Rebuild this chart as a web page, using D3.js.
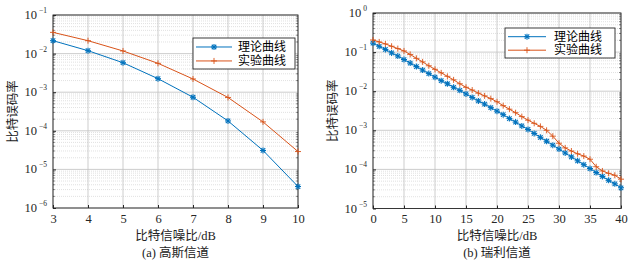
<!DOCTYPE html>
<html><head><meta charset="utf-8">
<script src="https://cdn.jsdelivr.net/npm/d3@7"></script>
<style>body{margin:0;background:#fff}svg{display:block}</style>
</head><body>
<script>
// ---- data ----
const snrA = [3,4,5,6,7,8,9,10];
const theoryA = [0.0216,0.0119,0.0058,0.00224,7.4e-4,1.8e-4,3.1e-5,3.6e-6];
const expA    = [0.0355,0.0216,0.0117,0.0056,0.0022,7.3e-4,1.7e-4,2.9e-5];

const snrB = d3.range(0,41);
const theoryB = [0.170,0.141,0.117,0.0955,0.0794,0.0646,0.0525,0.0427,0.0347,0.0282,
  0.0229,0.0186,0.0155,0.0126,0.0105,0.00851,0.00692,0.00562,0.00468,0.00380,
  0.00309,0.00251,0.00200,0.00162,0.00129,0.00105,8.32e-4,6.61e-4,5.25e-4,4.17e-4,
  3.31e-4,2.63e-4,2.09e-4,1.66e-4,1.32e-4,1.05e-4,8.32e-5,6.61e-5,5.25e-5,4.27e-5,3.39e-5];
const expB = [0.204,0.182,0.162,0.141,0.123,0.107,0.0871,0.0692,0.0562,0.0447,
  0.0363,0.0295,0.0240,0.0195,0.0155,0.0126,0.0107,0.00891,0.00759,0.00646,
  0.00537,0.00427,0.00347,0.00282,0.00224,0.00182,0.00151,0.00126,0.00100,7.08e-4,
  4.68e-4,3.55e-4,2.95e-4,2.51e-4,2.19e-4,1.82e-4,1.17e-4,9.12e-5,7.94e-5,7.08e-5,5.62e-5];

const xTicksA = [3,4,5,6,7,8,9,10];
const xTicksB = [0,5,10,15,20,25,30,35,40];
const yExpA = [-1,-2,-3,-4,-5,-6];
const yExpB = [0,-1,-2,-3,-4,-5];
const legendLabels = ["理论曲线","实验曲线"];
const xTitle = "比特信噪比/dB";
const yTitle = "比特误码率";
const captions = ["(a) 高斯信道","(b) 瑞利信道"];

const BLUE = "#0072BD", RED = "#D95319";
const SERIF = "'Liberation Serif','Times New Roman',serif";
const CJK = "'Liberation Serif','Noto Sans CJK SC',serif";

const svg = d3.select("body").append("svg").attr("width",641).attr("height",264);

function chart(o){
  const g = svg.append("g");
  const x = d3.scaleLinear().domain(o.xdom).range([o.l,o.r]);
  const y = d3.scaleLog().domain(o.ydom).range([o.b,o.t]);
  const lo = Math.log10(o.ydom[0]), hi = Math.log10(o.ydom[1]);
  const minor = [];
  for(let e=lo;e<hi;e++) for(let m=2;m<=9;m++) minor.push(m*Math.pow(10,e));
  g.selectAll(".mg").data(minor).join("line")
    .attr("x1",o.l).attr("x2",o.r).attr("y1",d=>y(d)).attr("y2",d=>y(d))
    .attr("stroke","#cdcdcd").attr("stroke-width",0.6).attr("stroke-dasharray","1,1");
  const majY = d3.range(lo,hi+1).map(e=>Math.pow(10,e));
  g.selectAll(".gy").data(majY).join("line")
    .attr("x1",o.l).attr("x2",o.r).attr("y1",d=>y(d)).attr("y2",d=>y(d))
    .attr("stroke","#c0c0c0").attr("stroke-width",0.8);
  g.selectAll(".gx").data(o.xticks).join("line")
    .attr("x1",d=>x(d)).attr("x2",d=>x(d)).attr("y1",o.t).attr("y2",o.b)
    .attr("stroke","#c0c0c0").attr("stroke-width",0.8);
  const ax = g.append("g").attr("transform",`translate(0,${o.b})`)
    .call(d3.axisBottom(x).tickValues(o.xticks).tickSize(-3).tickPadding(6).tickFormat(d3.format("d")));
  ax.selectAll("text").attr("font-family",SERIF).attr("font-size",12.5).attr("fill","#262626");
  ax.select(".domain").remove();
  ax.selectAll("line").attr("stroke","#262626");
  const ay = g.append("g").attr("transform",`translate(${o.l},0)`)
    .call(d3.axisLeft(y).tickValues(majY).tickSize(-3).tickFormat(""));
  ay.select(".domain").remove();
  ay.selectAll("line").attr("stroke","#262626");
  g.selectAll(".mt").data(minor).join("line")
    .attr("x1",o.l).attr("x2",o.l+1.8).attr("y1",d=>y(d)).attr("y2",d=>y(d))
    .attr("stroke","#262626").attr("stroke-width",0.6);
  g.selectAll(".mt2").data(minor).join("line")
    .attr("x1",o.r).attr("x2",o.r-1.8).attr("y1",d=>y(d)).attr("y2",d=>y(d))
    .attr("stroke","#262626").attr("stroke-width",0.6);
  const lab = g.selectAll(".yl").data(o.yexp).join("text")
    .attr("x",o.l-6).attr("y",d=>y(Math.pow(10,d))+4)
    .attr("text-anchor","end").attr("font-family",SERIF).attr("font-size",12.5).attr("fill","#262626");
  lab.append("tspan").text("10");
  lab.append("tspan").attr("dy",-6).attr("dx",2).attr("font-size",7.5).text(d=>d===0?"0":"−"+(-d));
  g.append("rect").attr("x",o.l).attr("y",o.t).attr("width",o.r-o.l).attr("height",o.b-o.t)
    .attr("fill","none").attr("stroke","#262626").attr("stroke-width",0.9);
  const line = d3.line().x(d=>x(d[0])).y(d=>y(d[1]));
  const series = [
    {pts:o.xs.map((v,i)=>[v,o.th[i]]), c:BLUE, m:"star"},
    {pts:o.xs.map((v,i)=>[v,o.ex[i]]), c:RED, m:"plus"}];
  series.forEach(s=>{
    g.append("path").datum(s.pts).attr("d",line).attr("fill","none").attr("stroke",s.c).attr("stroke-width",1);
    s.pts.forEach(p=>marker(g,x(p[0]),y(p[1]),s.m,s.c));
  });
  const lg = g.append("g");
  lg.append("rect").attr("x",o.lx).attr("y",o.ly).attr("width",o.lw).attr("height",o.lh)
    .attr("fill","#fff").attr("stroke","#262626").attr("stroke-width",0.9);
  [["star",BLUE],["plus",RED]].forEach((s,i)=>{
    const yy = o.ly + o.lh*(i===0?0.29:0.74);
    lg.append("line").attr("x1",o.lx+o.l1).attr("x2",o.lx+o.l2).attr("y1",yy).attr("y2",yy)
      .attr("stroke",s[1]).attr("stroke-width",1);
    marker(lg,o.lx+(o.l1+o.l2)/2,yy,s[0],s[1]);
    lg.append("text").attr("x",o.lx+o.tx).attr("y",yy+4).text(legendLabels[i])
      .attr("font-family",CJK).attr("font-size",12).attr("fill","#000");
  });
  g.append("text").attr("x",(o.l+o.r)/2).attr("y",240).attr("text-anchor","middle")
    .attr("font-family",CJK).attr("font-size",12.5).attr("fill","#222").text(xTitle);
  g.append("text").attr("x",(o.l+o.r)/2).attr("y",257).attr("text-anchor","middle")
    .attr("font-family",CJK).attr("font-size",12.5).attr("fill","#222").text(o.cap);
  g.append("text").attr("transform",`translate(${o.ytx},${(o.t+o.b)/2}) rotate(-90)`)
    .attr("text-anchor","middle").attr("font-family",CJK).attr("font-size",12.5).attr("fill","#222").text(yTitle);
}

function marker(g,cx,cy,type,c){
  const r=3;
  const segs = type==="plus" ? [[-r,0,r,0],[0,-r,0,r]]
    : [[-r,0,r,0],[0,-r,0,r],[-r*0.75,-r*0.75,r*0.75,r*0.75],[-r*0.75,r*0.75,r*0.75,-r*0.75]];
  segs.forEach(s=>g.append("line").attr("x1",cx+s[0]).attr("y1",cy+s[1]).attr("x2",cx+s[2]).attr("y2",cy+s[3])
    .attr("stroke",c).attr("stroke-width",type==="plus"?0.9:1.1));
}

chart({l:53,r:298,t:15,b:208,xdom:[3,10],ydom:[1e-6,1e-1],xticks:xTicksA,yexp:yExpA,
  xs:snrA,th:theoryA,ex:expA,lx:193,ly:38,lw:102,lh:31,l1:3,l2:39,tx:45,ytx:17,cap:captions[0]});
chart({l:373,r:621,t:13,b:208.5,xdom:[0,40],ydom:[1e-5,1],xticks:xTicksB,yexp:yExpB,
  xs:snrB,th:theoryB,ex:expB,lx:505,ly:28,lw:110,lh:30,l1:3,l2:41,tx:49,ytx:337,cap:captions[1]});
</script>
</body></html>
